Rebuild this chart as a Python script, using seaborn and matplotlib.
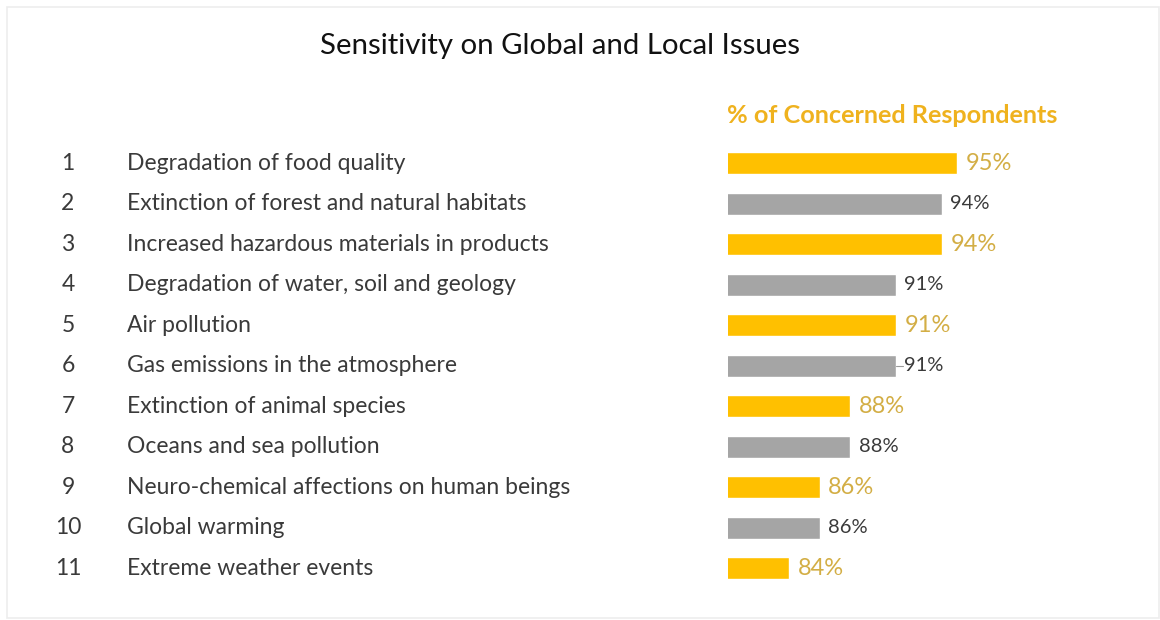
import matplotlib
matplotlib.use("Agg")
import matplotlib.pyplot as plt
import matplotlib.transforms as mtransforms
import seaborn as sns
import pandas as pd

ranks = [1, 2, 3, 4, 5, 6, 7, 8, 9, 10, 11]
issues = [
    "Degradation of food quality",
    "Extinction of forest and natural habitats",
    "Increased hazardous materials in products",
    "Degradation of water, soil and geology",
    "Air pollution",
    "Gas emissions in the atmosphere",
    "Extinction of animal species",
    "Oceans and sea pollution",
    "Neuro-chemical affections on human beings",
    "Global warming",
    "Extreme weather events",
]
concerned_pct = [95, 94, 94, 91, 91, 91, 88, 88, 86, 86, 84]
shade = ["gold", "gray", "gold", "gray", "gold", "gray", "gold", "gray", "gold", "gray", "gold"]

GOLD = "#FFC000"
GRAY = "#A5A5A5"
GOLD_TEXT = "#D3AE45"
HEADER_GOLD = "#EFB21E"
DARK = "#3A3A3A"

sns.set_theme(style="white")
plt.rcParams["font.family"] = ["Lato", "DejaVu Sans"]

df = pd.DataFrame({"issue": issues, "pct": concerned_pct, "shade": shade})

W, H = 1160, 620
fig = plt.figure(figsize=(W / 100, H / 100), dpi=100)
fig.patch.set_facecolor("white")

# bar area: x=80% sits at the left edge, rows spaced evenly
ax = fig.add_axes([728 / W, 1 - 588.5 / H, 382 / W, 445.5 / H])
sns.barplot(data=df, x="pct", y="issue", hue="shade", orient="h",
            palette={"gold": GOLD, "gray": GRAY}, dodge=False, width=0.55,
            legend=False, ax=ax, saturation=1)
ax.set_xlim(80, 105)
ax.set_ylim(len(issues) - 0.5, -0.5)
ax.axis("off")

for i, (v, s) in enumerate(zip(concerned_pct, shade)):
    if s == "gold":
        ax.annotate(f"{v}%", (v, i), xytext=(6, 0), textcoords="offset points",
                    va="center", ha="left", fontsize=17, color=GOLD_TEXT)
    else:
        ax.annotate(f"{v}%", (v, i), xytext=(6, 0), textcoords="offset points",
                    va="center", ha="left", fontsize=14.5, color=DARK)

# short leader line on the sixth row
ax.plot([91, 91.45], [5, 5], color="#9A9A9A", lw=0.8)

# rank numbers and issue names to the left of the bars
trans = mtransforms.blended_transform_factory(fig.transFigure, ax.transData)
for i, (r, name) in enumerate(zip(ranks, issues)):
    ax.text(68 / W, i, str(r), transform=trans, ha="center", va="center",
            fontsize=16.5, color=DARK, clip_on=False)
    ax.text(127 / W, i, name, transform=trans, ha="left", va="center",
            fontsize=16.5, color=DARK, clip_on=False)

fig.text(560 / W, 1 - 46 / H, "Sensitivity on Global and Local Issues",
         ha="center", va="center", fontsize=21.2, color="#111111")
fig.text(727 / W, 1 - 115 / H, "% of Concerned Respondents",
         ha="left", va="center", fontsize=18.2, fontweight="bold", color=HEADER_GOLD)

# faint frame around the slide
frame = plt.Rectangle((7 / W, 2 / H), 1 - 8 / W, 1 - 9 / H, transform=fig.transFigure,
                      fill=False, edgecolor="#EDEDED", lw=1.2)
fig.add_artist(frame)

fig.savefig("out.png", dpi=100, facecolor="white")
